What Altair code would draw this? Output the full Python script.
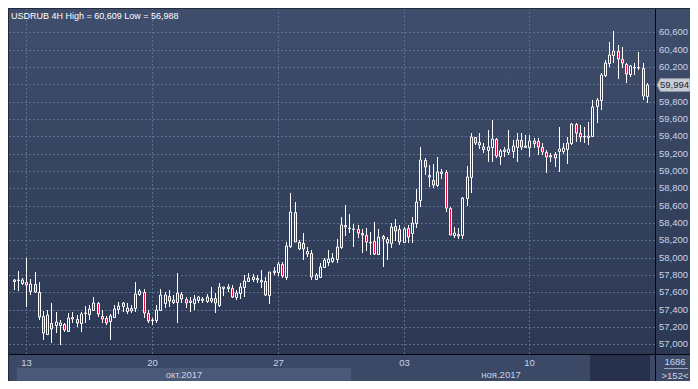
import altair as alt
import pandas as pd

# ---------------- data (USDRUB, 4H candles) ----------------
opens = [57.730, 57.742, 57.707, 57.719, 57.615, 57.696, 57.603, 57.326, 57.119, 57.246,
         57.223, 57.223, 57.234, 57.153, 57.315, 57.292, 57.246, 57.361, 57.349, 57.396,
         57.476, 57.326, 57.303, 57.269, 57.315, 57.407, 57.442, 57.384, 57.419, 57.419,
         57.580, 57.603, 57.361, 57.280, 57.280, 57.396, 57.476, 57.557, 57.488, 57.488,
         57.580, 57.523, 57.488, 57.476, 57.511, 57.511, 57.500, 57.534, 57.534, 57.453,
         57.650, 57.650, 57.650, 57.546, 57.592, 57.661, 57.730, 57.753, 57.765, 57.742,
         57.730, 57.569, 57.834, 57.834, 57.926, 57.776, 58.134, 58.527, 58.180, 58.169,
         58.077, 58.053, 57.753, 57.776, 57.892, 57.950, 57.961, 57.984, 58.123, 58.377,
         58.342, 58.330, 58.330, 58.284, 58.261, 58.180, 58.192, 58.042, 58.250, 58.215,
         58.169, 58.365, 58.330, 58.180, 58.342, 58.284, 58.400, 58.665, 59.127, 58.954,
         58.896, 58.838, 58.977, 58.988, 58.573, 58.261, 58.273, 58.261, 58.688, 58.930,
         59.392, 59.334, 59.254, 59.242, 59.277, 59.369, 59.173, 59.231, 59.219, 59.231,
         59.277, 59.357, 59.277, 59.277, 59.323, 59.346, 59.277, 59.219, 59.184, 59.196,
         59.231, 59.231, 59.254, 59.323, 59.542, 59.438, 59.404, 59.392, 59.404, 59.750,
         59.819, 60.108, 60.246, 60.338, 60.384, 60.292, 60.234, 60.119, 60.200, 60.200,
         60.188, 59.865]
highs = [57.753, 57.846, 57.765, 57.996, 57.753, 57.834, 57.719, 57.384, 57.396, 57.476,
         57.373, 57.280, 57.246, 57.361, 57.373, 57.338, 57.373, 57.442, 57.453, 57.546,
         57.488, 57.396, 57.326, 57.349, 57.453, 57.488, 57.488, 57.476, 57.453, 57.719,
         57.638, 57.638, 57.396, 57.303, 57.453, 57.638, 57.603, 57.626, 57.569, 57.823,
         57.603, 57.546, 57.546, 57.569, 57.557, 57.546, 57.580, 57.661, 57.592, 57.707,
         57.661, 57.696, 57.684, 57.626, 57.707, 57.800, 57.823, 57.811, 57.800, 57.857,
         57.776, 57.834, 57.892, 57.950, 57.950, 58.180, 58.746, 58.642, 58.203, 58.284,
         58.123, 58.088, 57.823, 57.938, 57.996, 58.088, 58.053, 58.215, 58.469, 58.607,
         58.503, 58.388, 58.377, 58.330, 58.342, 58.296, 58.411, 58.330, 58.261, 58.238,
         58.400, 58.446, 58.377, 58.353, 58.377, 58.469, 58.792, 59.277, 59.150, 59.069,
         59.080, 59.161, 59.023, 59.011, 58.584, 58.353, 58.342, 58.700, 59.057, 59.438,
         59.392, 59.438, 59.323, 59.473, 59.588, 59.381, 59.254, 59.277, 59.473, 59.357,
         59.438, 59.438, 59.415, 59.415, 59.381, 59.381, 59.323, 59.242, 59.207, 59.219,
         59.507, 59.323, 59.392, 59.554, 59.554, 59.531, 59.507, 59.565, 59.819, 59.842,
         60.131, 60.281, 60.488, 60.609, 60.454, 60.431, 60.246, 60.223, 60.246, 60.373,
         60.246, 60.015]
lows = [57.626, 57.615, 57.684, 57.430, 57.569, 57.592, 57.280, 57.049, 57.107, 57.015,
        57.130, 56.988, 57.142, 57.142, 57.246, 57.199, 57.142, 57.246, 57.280, 57.384,
        57.315, 57.246, 57.223, 57.049, 57.303, 57.349, 57.373, 57.349, 57.361, 57.373,
        57.557, 57.303, 57.246, 57.223, 57.246, 57.384, 57.419, 57.430, 57.465, 57.246,
        57.476, 57.419, 57.373, 57.396, 57.476, 57.476, 57.476, 57.476, 57.361, 57.430,
        57.557, 57.603, 57.534, 57.511, 57.523, 57.546, 57.719, 57.719, 57.707, 57.650,
        57.557, 57.465, 57.800, 57.788, 57.765, 57.742, 58.111, 58.180, 58.088, 57.973,
        58.007, 57.742, 57.742, 57.765, 57.880, 57.903, 57.938, 57.938, 58.100, 58.250,
        58.284, 58.123, 58.227, 58.053, 58.077, 58.030, 58.030, 58.030, 57.892, 57.973,
        58.111, 58.192, 58.146, 58.180, 58.169, 58.169, 58.342, 58.584, 58.954, 58.815,
        58.804, 58.815, 58.907, 58.527, 58.261, 58.227, 58.215, 58.215, 58.596, 58.746,
        59.300, 59.254, 59.207, 59.104, 59.104, 59.150, 59.069, 59.161, 59.184, 59.150,
        59.104, 59.242, 59.265, 59.161, 59.265, 59.184, 59.184, 58.977, 59.104, 59.046,
        58.988, 59.196, 59.080, 59.300, 59.334, 59.334, 59.323, 59.300, 59.392, 59.554,
        59.704, 60.084, 60.200, 60.246, 60.061, 60.188, 60.015, 60.084, 60.108, 60.165,
        59.819, 59.784]
closes = [57.742, 57.740, 57.742, 57.684, 57.696, 57.603, 57.315, 57.130, 57.338, 57.176,
          57.257, 57.246, 57.165, 57.303, 57.292, 57.246, 57.349, 57.361, 57.407, 57.476,
          57.349, 57.292, 57.246, 57.326, 57.407, 57.442, 57.476, 57.419, 57.384, 57.580,
          57.615, 57.361, 57.269, 57.275, 57.396, 57.569, 57.569, 57.500, 57.511, 57.592,
          57.523, 57.476, 57.500, 57.523, 57.546, 57.523, 57.546, 57.500, 57.476, 57.661,
          57.661, 57.661, 57.546, 57.592, 57.661, 57.730, 57.765, 57.776, 57.742, 57.719,
          57.569, 57.834, 57.846, 57.926, 57.788, 58.134, 58.527, 58.180, 58.100, 58.100,
          58.042, 57.776, 57.800, 57.892, 57.973, 57.984, 57.996, 58.123, 58.377, 58.353,
          58.346, 58.335, 58.284, 58.261, 58.180, 58.169, 58.042, 58.238, 58.215, 58.169,
          58.353, 58.307, 58.180, 58.330, 58.238, 58.400, 58.642, 59.127, 59.046, 58.930,
          58.838, 58.988, 58.988, 58.573, 58.261, 58.284, 58.250, 58.688, 58.930, 59.392,
          59.323, 59.300, 59.277, 59.277, 59.369, 59.173, 59.231, 59.242, 59.254, 59.288,
          59.357, 59.277, 59.288, 59.346, 59.346, 59.277, 59.219, 59.161, 59.161, 59.150,
          59.254, 59.265, 59.323, 59.542, 59.438, 59.392, 59.392, 59.404, 59.738, 59.819,
          60.108, 60.246, 60.338, 60.384, 60.292, 60.246, 60.119, 60.211, 60.188, 60.185,
          59.865, 59.994]

week_index = [3, 33, 63, 93, 123]
week_labels = ["13", "20", "27", "03", "10"]
month_labels = ["окт.2017", "ноя.2017"]
month_start = [0.7, 80.5]
month_end = [80.5, 151.75]
month_shade = ["#4a5978", "#3b4966"]
y_ticks = [57.0, 57.2, 57.4, 57.6, 57.8, 58.0, 58.2, 58.4, 58.6, 58.8,
           59.0, 59.2, 59.4, 59.6, 59.8, 60.0, 60.2, 60.4, 60.6]
symbol = "USDRUB"
timeframe = "4H"
bars_total = "1686"
scroll_start = [137.5]
scroll_end = [151.75]

# ---------------- styling ----------------
W, H = 647, 346          # plot area
RP, BP = 35, 27          # right axis panel, bottom axis panel
FONT = "Liberation Sans"
BG_TOP, BG_BOT = "#3f4e6c", "#2c3853"
GRID = "#5e6e8f"
TXT = "#c9d4e6"
RED = "#e8103e"
BODY_BG = "#34415e"
ROW = "#3b4966"

n = len(opens)
df = pd.DataFrame({"i": list(range(n)), "open": opens, "high": highs,
                   "low": lows, "close": closes})

xs = alt.Scale(domain=[-0.15, 151.75], nice=False, zero=False, round=True)
ys = alt.Scale(domain=[56.888, 60.880], nice=False, zero=False, round=True)

one = pd.DataFrame({"a": [0]})
grad = alt.LinearGradient(gradient="linear",
                          stops=[alt.GradientStop(color=BG_TOP, offset=0),
                                 alt.GradientStop(color=BG_BOT, offset=1)],
                          x1=0, x2=0, y1=0, y2=1)

bg = alt.Chart(one).mark_rect(fill=grad).encode(
    x=alt.value(0), x2=alt.value(W + RP), y=alt.value(0), y2=alt.value(H))

ytk = pd.DataFrame({"v": y_ticks,
                    "lab": [f"{v:.3f}".replace(".", ",") for v in y_ticks]})
hgrid = alt.Chart(ytk).mark_rule(
    color=GRID, strokeDash=[2, 2], strokeWidth=1, yOffset=0.5).encode(
    y=alt.Y("v:Q", scale=ys, axis=None))
ylabels = alt.Chart(ytk).mark_text(
    color=TXT, font=FONT, fontSize=9.5, align="left", baseline="middle").encode(
    y=alt.Y("v:Q", scale=ys, axis=None), x=alt.value(W + 4), text="lab:N")

weeks = pd.DataFrame({"i": week_index, "lab": week_labels})
vgrid = alt.Chart(weeks).mark_rule(color=GRID, strokeDash=[2, 2], strokeWidth=1,
                                   xOffset=0.5).encode(
    x=alt.X("i:Q", scale=xs, axis=None), y=alt.value(0), y2=alt.value(H))

wicks = alt.Chart(df).mark_rule(color="#ffffff", strokeWidth=1, xOffset=0.5).encode(
    x=alt.X("i:Q", scale=xs, axis=None),
    y=alt.Y("low:Q", scale=ys, axis=None), y2="high:Q")

bodies = alt.Chart(df).mark_bar(size=2, stroke="#ffffff", strokeWidth=1,
                                xOffset=0.5, yOffset=0.5).encode(
    x=alt.X("i:Q", scale=xs, axis=None),
    y=alt.Y("open:Q", scale=ys, axis=None), y2="close:Q",
    fill=alt.condition("datum.close < datum.open", alt.value(RED), alt.value(BODY_BG)))

# bottom axis panel
row_all = alt.Chart(one).mark_rect(fill=ROW).encode(
    x=alt.value(0), x2=alt.value(W), y=alt.value(H), y2=alt.value(H + BP))
mon = pd.DataFrame({"s": month_start, "e": month_end, "lab": month_labels,
                    "shade": month_shade})
mon["mid"] = (mon["s"] + mon["e"]) / 2
month_band = alt.Chart(mon).mark_rect().encode(
    x=alt.X("s:Q", scale=xs, axis=None), x2="e:Q",
    y=alt.value(H + 14), y2=alt.value(H + BP),
    fill=alt.Fill("shade:N", scale=None))
scroll = alt.Chart(pd.DataFrame({"s": scroll_start, "e": scroll_end})).mark_rect(
    fill="#27314b").encode(
    x=alt.X("s:Q", scale=xs, axis=None), x2="e:Q",
    y=alt.value(H + 1), y2=alt.value(H + BP))
month_text = alt.Chart(mon).mark_text(color=TXT, font=FONT, fontSize=9.5,
                                      baseline="middle").encode(
    x=alt.X("mid:Q", scale=xs, axis=None), y=alt.value(H + 20.5), text="lab:N")
week_text = alt.Chart(weeks).mark_text(color=TXT, font=FONT, fontSize=9.5,
                                       baseline="middle", dx=0.5).encode(
    x=alt.X("i:Q", scale=xs, axis=None), y=alt.value(H + 9), text="lab:N")

corner = alt.Chart(one).mark_rect(fill=ROW).encode(
    x=alt.value(W + 1), x2=alt.value(W + RP), y=alt.value(H + 1), y2=alt.value(H + BP))
info_top = alt.Chart(pd.DataFrame({"t": [bars_total]})).mark_text(
    color=TXT, font=FONT, fontSize=9.5, baseline="middle").encode(
    x=alt.value(W + 20), y=alt.value(H + 8), text="t:N")
info_bot = alt.Chart(pd.DataFrame({"t": [f">{n}<"]})).mark_text(
    color=TXT, font=FONT, fontSize=9.5, baseline="middle").encode(
    x=alt.value(W + 20), y=alt.value(H + 21.5), text="t:N")
info_line = alt.Chart(one).mark_rule(color="#9aa6ba").encode(
    x=alt.value(W + 9), x2=alt.value(W + 33), y=alt.value(H + 14.5))

sep_h = alt.Chart(one).mark_rule(color="#05070c", strokeWidth=1).encode(
    x=alt.value(0), x2=alt.value(W + RP), y=alt.value(H + 0.5))
sep_v = alt.Chart(one).mark_rule(color="#05070c", strokeWidth=1).encode(
    x=alt.value(W + 0.5), y=alt.value(0), y2=alt.value(H + BP))
edge_t = alt.Chart(one).mark_rule(color="#222a3b", strokeWidth=1).encode(
    x=alt.value(0), x2=alt.value(W + RP), y=alt.value(0.5))
edge_l = alt.Chart(one).mark_rule(color="#222a3b", strokeWidth=1).encode(
    x=alt.value(0.5), y=alt.value(0), y2=alt.value(H + BP))

# last price tag
last = pd.DataFrame({"p": [closes[-1]], "t": [f"{closes[-1]:.3f}".replace(".", ",")]})
tag = alt.Chart(last).mark_point(
    shape="M-1,0L-0.8,-0.39L1,-0.39L1,0.39L-0.8,0.39Z", size=33 * 33, filled=True,
    fill="#c8cdd6", stroke="#8d95a3", strokeWidth=1, opacity=1).encode(
    x=alt.value(W + 18.5), y=alt.Y("p:Q", scale=ys, axis=None))
tag_text = alt.Chart(last).mark_text(color="#1b2130", font=FONT, fontSize=9.5,
                                     baseline="middle", align="left").encode(
    x=alt.value(W + 5), y=alt.Y("p:Q", scale=ys, axis=None), text="t:N")

title_str = (f"{symbol} {timeframe} High = {max(highs):.3f} Low = {min(lows):.3f}"
             ).replace(".", ",")
title = alt.Chart(pd.DataFrame({"t": [title_str]})).mark_text(
    color="#ffffff", font=FONT, fontSize=9, align="left", baseline="middle").encode(
    x=alt.value(3), y=alt.value(7.5), text="t:N")

chart = alt.layer(
    bg, hgrid, vgrid, wicks, bodies,
    row_all, month_band, scroll, month_text, week_text,
    corner, info_top, info_bot, info_line,
    sep_h, sep_v, edge_t, edge_l, ylabels, tag, tag_text, title
).properties(
    width=W, height=H,
    padding={"left": 0, "top": 0, "right": RP, "bottom": BP},
    autosize=alt.AutoSizeParams(type="none"),
    background="#c3cddb",
).configure_view(stroke=None)

chart.save("out.html", embed_options={"renderer": "svg", "actions": False})
